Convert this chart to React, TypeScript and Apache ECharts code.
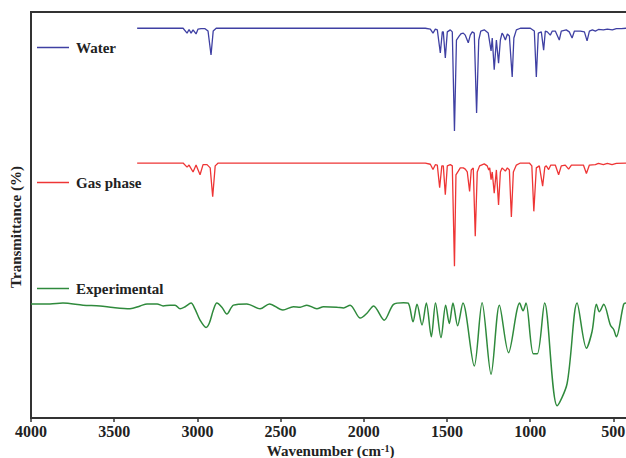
import React, { useEffect, useRef } from 'react';
import * as echarts from 'echarts';

const seriesNames = ['Water', 'Gas phase', 'Experimental'];

// [wavenumber (cm-1), transmittance (a.u., stacked)]
const water: [number, number][] = [
  [3362, 96.0], [3086, 96.0], [3062, 94.8], [3050, 95.7], [3038, 94.8], [3026, 95.6], [3008, 94.6], [2996, 95.8],
  [2978, 95.9], [2954, 95.9], [2936, 95.3], [2918, 89.4], [2905, 95.3], [2887, 96.0], [1630, 96.0], [1600, 95.8],
  [1584, 94.8], [1570, 95.8], [1558, 95.6], [1540, 89.9], [1528, 95.1], [1522, 95.1], [1510, 88.7], [1498, 95.1],
  [1480, 95.6], [1468, 95.1], [1455, 70.7], [1443, 93.1], [1426, 94.1], [1414, 94.7], [1402, 94.8], [1390, 94.3],
  [1372, 92.4], [1360, 94.3], [1348, 95.1], [1336, 94.8], [1322, 75.1], [1309, 93.1], [1297, 95.3], [1276, 95.6],
  [1252, 94.8], [1235, 90.4], [1228, 93.6], [1216, 85.8], [1203, 93.1], [1190, 87.4], [1179, 93.1], [1169, 94.8],
  [1161, 94.3], [1149, 93.1], [1137, 94.6], [1125, 94.1], [1108, 84.0], [1098, 93.6], [1083, 95.6], [1059, 96.0],
  [999, 96.0], [975, 95.3], [963, 84.0], [951, 94.8], [933, 95.1], [919, 90.6], [909, 95.3], [897, 95.1],
  [879, 94.3], [867, 95.3], [849, 95.3], [825, 93.1], [813, 95.3], [783, 95.6], [765, 95.1], [748, 93.6],
  [734, 95.3], [698, 95.3], [674, 95.1], [658, 92.9], [644, 95.3], [626, 95.6], [608, 95.3], [590, 95.7],
  [560, 95.6], [536, 95.8], [506, 95.6], [482, 95.9], [452, 95.9], [422, 96.0], [400, 96.0],
];

const gasPhase: [number, number][] = [
  [3362, 62.8], [3086, 62.8], [3062, 61.8], [3050, 62.3], [3026, 60.6], [3008, 62.3], [2984, 59.9], [2966, 62.4],
  [2942, 62.4], [2923, 61.6], [2908, 54.5], [2893, 62.1], [2875, 62.8], [1630, 62.8], [1600, 62.5], [1584, 61.2],
  [1570, 62.4], [1558, 62.3], [1544, 56.7], [1531, 62.1], [1522, 62.1], [1510, 55.0], [1498, 62.1], [1480, 62.4],
  [1468, 62.1], [1455, 37.4], [1446, 59.9], [1432, 60.8], [1420, 61.6], [1402, 61.6], [1390, 61.3], [1378, 60.6],
  [1364, 55.8], [1354, 61.1], [1342, 61.6], [1330, 44.8], [1318, 60.6], [1304, 62.1], [1276, 62.6], [1258, 62.1],
  [1249, 61.1], [1243, 61.6], [1235, 58.7], [1228, 60.6], [1216, 55.4], [1203, 61.1], [1190, 52.5], [1179, 60.6],
  [1169, 61.6], [1161, 61.3], [1149, 60.8], [1137, 61.6], [1125, 61.1], [1113, 49.5], [1101, 60.6], [1083, 62.3],
  [1059, 62.8], [1005, 62.8], [990, 62.1], [978, 50.9], [963, 61.6], [945, 62.1], [925, 57.1], [912, 61.8],
  [903, 62.1], [889, 61.2], [876, 62.3], [849, 62.3], [829, 59.9], [813, 62.1], [789, 62.3], [769, 61.3],
  [752, 62.3], [680, 62.3], [662, 60.2], [644, 62.3], [608, 62.4], [590, 62.7], [560, 62.4], [536, 62.7],
  [508, 62.4], [482, 62.7], [422, 62.8], [400, 62.8],
];

const experimental: [number, number][] = [
  [4000, 28.1], [3886, 28.1], [3808, 28.3], [3687, 27.8], [3585, 27.6], [3507, 27.2], [3405, 26.9], [3344, 27.6],
  [3302, 28.1], [3242, 28.1], [3206, 27.6], [3164, 27.8], [3134, 27.8], [3104, 26.9], [3074, 27.4], [3038, 28.3],
  [3014, 26.8], [2984, 24.1], [2948, 22.3], [2928, 23.4], [2904, 26.6], [2883, 28.3], [2853, 27.3], [2823, 25.6],
  [2783, 27.8], [2703, 28.1], [2623, 26.9], [2567, 28.1], [2486, 26.6], [2423, 27.4], [2382, 27.3], [2342, 27.8],
  [2282, 26.9], [2242, 27.4], [2162, 27.3], [2122, 27.1], [2082, 27.8], [2021, 24.6], [1981, 25.8], [1941, 27.6],
  [1877, 24.1], [1821, 28.0], [1761, 28.4], [1733, 28.3], [1704, 23.7], [1680, 28.0], [1650, 22.9], [1624, 28.3],
  [1594, 20.0], [1569, 28.3], [1536, 19.8], [1508, 27.8], [1486, 23.3], [1464, 28.3], [1436, 22.7], [1404, 28.3],
  [1336, 12.8], [1289, 28.4], [1235, 10.8], [1185, 27.8], [1130, 16.1], [1063, 28.3], [1043, 26.4], [1025, 28.3],
  [981, 15.8], [957, 15.8], [913, 28.3], [838, 3.0], [778, 8.5], [718, 28.3], [662, 17.2], [628, 21.3],
  [602, 28.0], [584, 26.2], [558, 28.0], [518, 22.9], [498, 21.8], [482, 20.0], [438, 28.0], [422, 28.3],
  [400, 28.3],
];

const colors = ['#3f40a3', '#ee3535', '#2f8a3c'];
const legendTops = [35, 170, 276];

export default function App() {
  const ref = useRef<HTMLDivElement>(null);
  useEffect(() => {
    const chart = echarts.init(ref.current!, null, { renderer: 'svg' });
    const font = "'Liberation Serif', 'Times New Roman', serif";
    const dataSets = [water, gasPhase, experimental];
    chart.setOption({
      animation: false,
      backgroundColor: '#ffffff',
      grid: {
        left: 31, top: 12, width: 599, height: 406, show: true, borderColor: '#333', borderWidth: 2,
        containLabel: false, outerBoundsMode: 'none',
      },
      xAxis: {
        type: 'value',
        min: 400,
        max: 4000,
        inverse: true,
        splitNumber: 7,
        minInterval: 500,
        maxInterval: 500,
        name: 'Wavenumber (cm{sup|-1})',
        nameLocation: 'middle',
        nameGap: 21,
        nameTextStyle: {
          fontFamily: font, fontWeight: 'bold', fontSize: 15, color: '#222',
          rich: { sup: { fontFamily: font, fontWeight: 'bold', fontSize: 10, color: '#222', padding: [0, 0, 5, 0] } },
        },
        axisLine: { lineStyle: { color: '#333', width: 2 } },
        axisTick: { show: true, length: 4, lineStyle: { color: '#333', width: 1.5 } },
        axisLabel: {
          fontFamily: font, fontWeight: 'bold', fontSize: 16, color: '#222', margin: 5, showMinLabel: false,
          formatter: (v: number) => String(v),
        },
        splitLine: { show: false },
      },
      yAxis: {
        type: 'value',
        min: 0,
        max: 100,
        name: 'Transmittance (%)',
        nameLocation: 'middle',
        nameGap: 8,
        nameTextStyle: { fontFamily: font, fontWeight: 'bold', fontSize: 15, color: '#222', padding: [0, 24, 0, 0] },
        axisLine: { show: true, lineStyle: { color: '#333', width: 2 } },
        axisTick: { show: false },
        axisLabel: { show: false },
        splitLine: { show: false },
      },
      legend: seriesNames.map((n, i) => ({
        data: [n],
        left: 32,
        top: legendTops[i],
        icon: 'rect',
        itemWidth: 32,
        itemHeight: 1.5,
        selectedMode: false,
        textStyle: { fontFamily: font, fontWeight: 'bold', fontSize: 15, color: '#222', padding: [0, 0, 0, 2] },
      })),
      series: seriesNames.map((n, i) => ({
        name: n,
        type: 'line',
        data: dataSets[i],
        symbol: 'none',
        smooth: i === 2 ? 0.3 : false,
        lineStyle: { color: colors[i], width: i === 2 ? 1.5 : 1.3 },
        itemStyle: { color: colors[i] },
      })),
    });
    return () => chart.dispose();
  }, []);
  return <div ref={ref} style={{ position: 'fixed', left: 0, top: 0, width: 626, height: 458 }} />;
}
